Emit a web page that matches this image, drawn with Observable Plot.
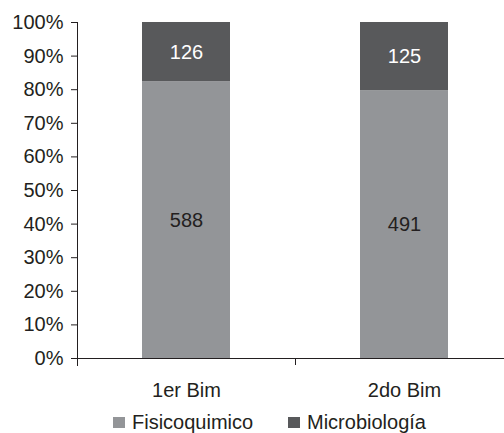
<!DOCTYPE html>
<html>
<head>
<meta charset="utf-8">
<script src="https://cdn.jsdelivr.net/npm/d3@7"></script>
<script src="https://cdn.jsdelivr.net/npm/@observablehq/plot@0.6"></script>
<style>
  body { margin: 0; background: #fff; }
  #wrap { position: relative; width: 504px; height: 433px; overflow: hidden; font-family: "Liberation Sans", Arial, sans-serif; color: #231f20; }
  #legend { position: absolute; left: 0; top: 411px; width: 504px; font-size: 20px; line-height: 23px; }
  .item { position: absolute; top: 0; display: flex; align-items: center; white-space: nowrap; }
  .sw { width: 12px; height: 11px; margin-right: 7px; }
</style>
</head>
<body>
<div id="wrap"></div>
<script>
const categories = ["1er Bim", "2do Bim"];
const seriesNames = ["Fisicoquimico", "Microbiología"];
const fisicoquimico = [588, 491];
const microbiologia = [126, 125];
const colors = ["#939598", "#58595b"];
const labelColors = ["#231f20", "#ffffff"];

const data = [];
categories.forEach((c, i) => {
  data.push({cat: c, series: seriesNames[0], value: fisicoquimico[i]});
  data.push({cat: c, series: seriesNames[1], value: microbiologia[i]});
});

const ink = "#231f20";
const chart = Plot.plot({
  width: 504,
  height: 433,
  marginLeft: 77,
  marginRight: 0,
  marginTop: 22,
  marginBottom: 75,
  style: {fontFamily: "Liberation Sans, Arial, sans-serif", fontSize: "20px", color: ink, background: "white", overflow: "visible"},
  x: {domain: categories, range: [77, 513], paddingInner: 0.596, paddingOuter: 0.298, label: null},
  y: {domain: [0, 1], label: null},
  color: {domain: seriesNames, range: colors},
  marks: [
    Plot.barY(data, Plot.stackY({offset: "normalize", order: seriesNames, x: "cat", y: "value", fill: "series"})),
    Plot.text(data, Plot.stackY({offset: "normalize", order: seriesNames, x: "cat", y: "value", text: d => String(d.value),
      fill: d => labelColors[seriesNames.indexOf(d.series)], fontSize: 20})),
    Plot.axisY({ticks: d3.range(0, 11).map(k => k / 10), tickFormat: d => Math.round(d * 100) + "%", tickSize: 6, tickPadding: 8, fontSize: 20, stroke: ink, fill: ink, label: null}),
    Plot.axisX({tickSize: 0, tickPadding: 24, fontSize: 20, fill: ink, label: null}),
    Plot.axisX({ticks: [categories[0]], tickSize: 7, dx: 109, tickFormat: () => "", stroke: ink, label: null}),
    Plot.frame({anchor: "left", insetBottom: -7, stroke: ink}),
    Plot.frame({anchor: "bottom", stroke: ink})
  ]
});
document.getElementById("wrap").appendChild(chart);

const legend = document.createElement("div");
legend.id = "legend";
const lefts = [113, 288];
seriesNames.forEach((s, i) => {
  const it = document.createElement("div");
  it.className = "item";
  it.style.left = lefts[i] + "px";
  it.innerHTML = `<span class="sw" style="background:${colors[i]}"></span><span>${s}</span>`;
  legend.appendChild(it);
});
document.getElementById("wrap").appendChild(legend);
</script>
</body>
</html>
